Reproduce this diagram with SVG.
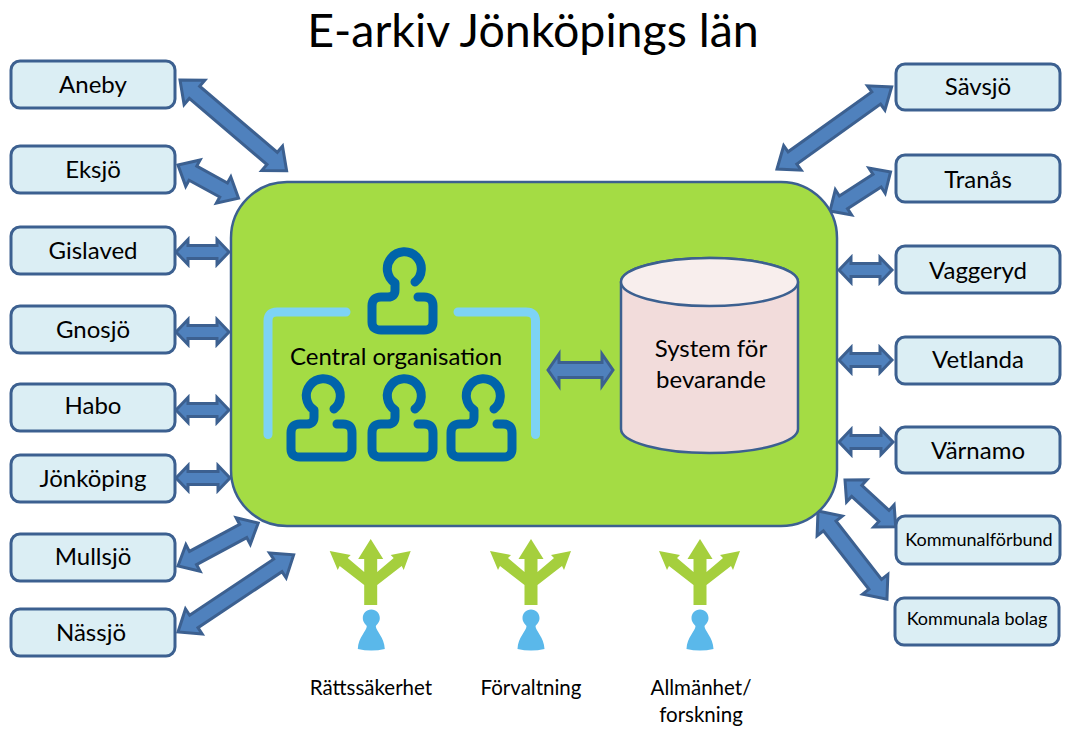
<svg xmlns="http://www.w3.org/2000/svg" xmlns:xlink="http://www.w3.org/1999/xlink" width="1074" height="735" viewBox="0 0 1074 735">
<style>
text{font-family:"Lato","Open Sans","Liberation Sans",sans-serif;fill:#000;text-anchor:middle}
.box{fill:#dbeef4;stroke:#3c6090;stroke-width:3}
.lbl{font-size:24px}
.sm{font-size:18px}
.cap{font-size:20.500px}
.arr{fill:#4f81bd;stroke:#3c6090;stroke-width:3;stroke-linejoin:miter}
.ppl{fill:none;stroke:#0064aa;stroke-width:9;stroke-linecap:round;stroke-linejoin:round}
.brk{fill:none;stroke:#7dd3f5;stroke-width:9;stroke-linecap:round;stroke-linejoin:round}
.fork{fill:#a5cf3d}
.pawn{fill:#5ab8ea}
</style>
<defs>
<path id="person" class="ppl" d="M12,14 A17,17 0 1 0 -8,15 L-8,22 Q-8,29 -15,29 L-22,29 Q-31,29 -31,38 L-31,54 Q-31,62 -22,62 L21,62 Q30,62 30,54 L30,38 Q30,29 21,29 L15,29"/>
<polygon id="fork" class="fork" points="0,0 12.5,20 6.500,20 6.500,33 23,19 20,16 40,12 33,31 31,27 6.500,46 6.500,66 -6.500,66 -6.500,46 -31,27 -33,31 -41,12 -20,16 -23,19 -6.500,33 -6.500,20 -12.500,20"/>
<path id="pawn" class="pawn" d="M0,-8.5 C5,-8.5 8.5,-4.5 8.5,0 C8.5,4 6,6 4.5,8 C4.5,13 13,19 13.5,31 Q0,34 -13.5,31 C-13,19 -4.5,13 -4.5,8 C-6,6 -8.5,4 -8.5,0 C-8.5,-4.5 -5,-8.5 0,-8.5Z"/>
</defs>
<text id="title" x="533" y="47" style="font-size:46.500px">E-arkiv Jönköpings län</text>
<g id="connectors">
<polygon class="arr" transform="translate(180,80) rotate(40.4)" points="0,0 19,-16 19,-8 121,-8 121,-16 140,0 121,16 121,8 19,8 19,16"/>
<polygon class="arr" transform="translate(178,165) rotate(28.7)" points="0,0 17,-15 17,-8 52,-8 52,-15 69,0 52,15 52,8 17,8 17,15"/>
<polygon class="arr" transform="translate(176,252)" points="0,0 12,-12.500 12,-6.500 41,-6.500 41,-12.500 53,0 41,12.500 41,6.500 12,6.500 12,12.500"/>
<polygon class="arr" transform="translate(176,332)" points="0,0 12,-12.500 12,-6.500 41,-6.500 41,-12.500 53,0 41,12.500 41,6.500 12,6.500 12,12.500"/>
<polygon class="arr" transform="translate(176,410)" points="0,0 12,-12.500 12,-6.500 41,-6.500 41,-12.500 53,0 41,12.500 41,6.500 12,6.500 12,12.500"/>
<polygon class="arr" transform="translate(176,478)" points="0,0 12,-12.500 12,-6.500 42,-6.500 42,-12.500 54,0 42,12.500 42,6.500 12,6.500 12,12.500"/>
<polygon class="arr" transform="translate(178,566) rotate(-28.2)" points="0,0 17,-15 17,-7.500 74,-7.500 74,-15 91,0 74,15 74,7.500 17,7.500 17,15"/>
<polygon class="arr" transform="translate(178,632) rotate(-33.7)" points="0,0 19,-15 19,-7.500 120,-7.500 120,-15 139,0 120,15 120,7.500 19,7.500 19,15"/>
<polygon class="arr" transform="translate(777,169) rotate(-35.6)" points="0,0 19,-15 19,-7.500 122,-7.500 122,-15 141,0 122,15 122,7.500 19,7.500 19,15"/>
<polygon class="arr" transform="translate(830,211) rotate(-32.8)" points="0,0 16,-15 16,-7.500 56,-7.500 56,-15 72,0 56,15 56,7.500 16,7.500 16,15"/>
<polygon class="arr" transform="translate(839,270)" points="0,0 12,-12.500 12,-6.500 41,-6.500 41,-12.500 53,0 41,12.500 41,6.500 12,6.500 12,12.500"/>
<polygon class="arr" transform="translate(839,360)" points="0,0 12,-12.500 12,-6.500 41,-6.500 41,-12.500 53,0 41,12.500 41,6.500 12,6.500 12,12.500"/>
<polygon class="arr" transform="translate(839,442)" points="0,0 12,-12.500 12,-6.500 42,-6.500 42,-12.500 54,0 42,12.500 42,6.500 12,6.500 12,12.500"/>
<polygon class="arr" transform="translate(845,480) rotate(42.7)" points="0,0 16,-15 16,-7.500 53,-7.500 53,-15 69,0 53,15 53,7.500 16,7.500 16,15"/>
<polygon class="arr" transform="translate(818,511) rotate(52)" points="0,0 19,-16 19,-8 93,-8 93,-16 112,0 93,16 93,8 19,8 19,16"/>
</g>
<g id="main"><rect x="231" y="182" width="606" height="344" rx="56" ry="56" fill="#a4dc44" stroke="#3c6090" stroke-width="2.5"/></g>
<g id="central-organisation">
<path class="brk" d="M346,312 L277,312 Q268,312 268,321 L268,434.5"/>
<path class="brk" d="M458,312 L526,312 Q535.5,312 535.5,321 L535.5,434.5"/>
<use xlink:href="#person" href="#person" x="403" y="268"/>
<use xlink:href="#person" href="#person" x="322" y="395"/>
<use xlink:href="#person" href="#person" x="403" y="395"/>
<use xlink:href="#person" href="#person" x="482" y="395"/>
<text x="396" y="365" style="font-size:24px">Central organisation</text>
</g>
<g id="link-inner"><polygon class="arr" transform="translate(548,370)" points="0,0 11,-16 11,-7.500 54,-7.500 54,-16 65,0 54,16 54,7.500 11,7.500 11,16"/></g>
<g id="system">
<path d="M621,282 A88.500,24 0 0 1 798,282 L798,429 A88.500,24 0 0 1 621,429 Z" fill="#f2dcdb" stroke="#3c6090" stroke-width="2.5"/>
<ellipse cx="709.500" cy="282" rx="88.500" ry="24" fill="#f8eeed" stroke="#3c6090" stroke-width="2.5"/>
<text class="lbl" x="711" y="357">System för</text>
<text class="lbl" x="711" y="388">bevarande</text>
</g>
<g id="aneby"><rect class="box" x="11" y="61" width="164" height="47" rx="9"/><text class="lbl" x="93" y="93">Aneby</text></g>
<g id="eksjo"><rect class="box" x="11" y="146" width="164" height="47" rx="9"/><text class="lbl" x="93" y="178">Eksjö</text></g>
<g id="gislaved"><rect class="box" x="11" y="227" width="164" height="47" rx="9"/><text class="lbl" x="93" y="259">Gislaved</text></g>
<g id="gnosjo"><rect class="box" x="11" y="306" width="164" height="47" rx="9"/><text class="lbl" x="93" y="338">Gnosjö</text></g>
<g id="habo"><rect class="box" x="11" y="384" width="164" height="47" rx="9"/><text class="lbl" x="93" y="414">Habo</text></g>
<g id="jonkoping"><rect class="box" x="11" y="455" width="164" height="47" rx="9"/><text class="lbl" x="93" y="487">Jönköping</text></g>
<g id="mullsjo"><rect class="box" x="11" y="534" width="164" height="47" rx="9"/><text class="lbl" x="93" y="565">Mullsjö</text></g>
<g id="nassjo"><rect class="box" x="11" y="609" width="164" height="47" rx="9"/><text class="lbl" x="91" y="641">Nässjö</text></g>
<g id="savsjo"><rect class="box" x="896" y="64" width="164" height="46" rx="9"/><text class="lbl" x="978" y="95">Sävsjö</text></g>
<g id="tranas"><rect class="box" x="896" y="155" width="164" height="47" rx="9"/><text class="lbl" x="978" y="188">Tranås</text></g>
<g id="vaggeryd"><rect class="box" x="896" y="246" width="164" height="47" rx="9"/><text class="lbl" x="978" y="279">Vaggeryd</text></g>
<g id="vetlanda"><rect class="box" x="896" y="337" width="164" height="47" rx="9"/><text class="lbl" x="978" y="368">Vetlanda</text></g>
<g id="varnamo"><rect class="box" x="896" y="427" width="164" height="46" rx="9"/><text class="lbl" x="978" y="459">Värnamo</text></g>
<g id="kommunalforbund"><rect class="box" x="896" y="516" width="164" height="48" rx="9"/><text class="sm" x="979" y="546">Kommunalförbund</text></g>
<g id="kommunala-bolag"><rect class="box" x="895" y="598" width="164" height="47" rx="9"/><text class="sm" x="977" y="625">Kommunala bolag</text></g>
<g id="rattssakerhet"><use xlink:href="#fork" href="#fork" x="370.700" y="539"/><use xlink:href="#pawn" href="#pawn" x="371.300" y="618"/><text class="cap" x="371" y="695">Rättssäkerhet</text></g>
<g id="forvaltning"><use xlink:href="#fork" href="#fork" x="531" y="539"/><use xlink:href="#pawn" href="#pawn" x="531" y="618"/><text class="cap" x="531" y="695">Förvaltning</text></g>
<g id="allmanhet"><use xlink:href="#fork" href="#fork" x="700" y="539"/><use xlink:href="#pawn" href="#pawn" x="700" y="618"/><text class="cap" x="701" y="695">Allmänhet/</text><text class="cap" x="701" y="722">forskning</text></g>
</svg>
